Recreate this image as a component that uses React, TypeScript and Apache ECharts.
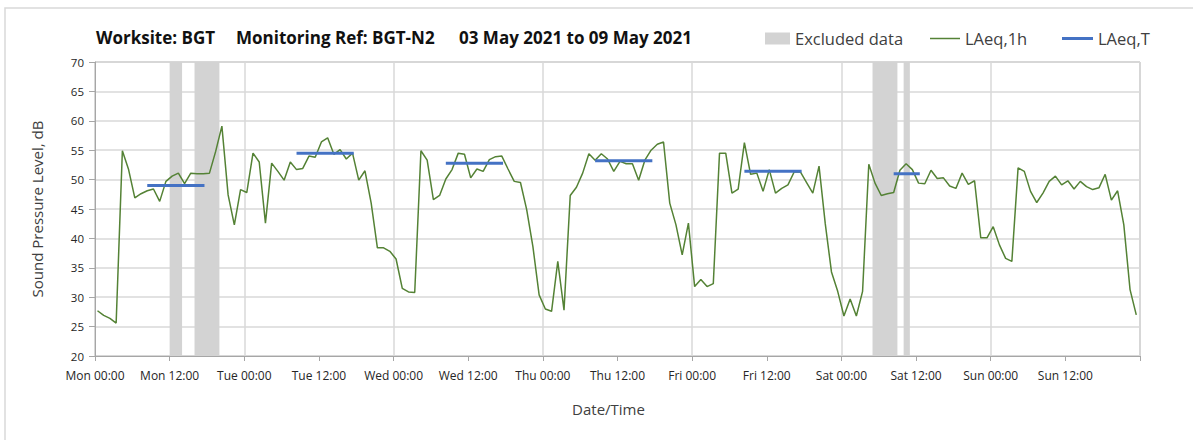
import React, { useEffect, useRef } from "react";
import * as echarts from "echarts";

// ---- Data ----
const dayNames = ["Mon", "Tue", "Wed", "Thu", "Fri", "Sat", "Sun"];
const yTicks = [20, 25, 30, 35, 40, 45, 50, 55, 60, 65, 70];

// hourly LAeq,1h readings (dB), sample times offset from the hour
const sampleOffsetHours = 0.4;
const monValues = [27.7, 26.9, 26.4, 25.6, 54.9, 51.7, 46.9, 47.6, 48.1, 48.4, 46.3, 49.7, 50.6, 51.1, 49.3, 51.1, 51.0, 51.0, 51.1, 54.8, 59.1, 47.4, 42.3, 48.3];
const tueValues = [47.8, 54.5, 53.0, 42.6, 52.8, 51.4, 49.9, 53.0, 51.7, 51.9, 54.0, 53.8, 56.4, 57.1, 54.3, 55.1, 53.5, 54.5, 49.9, 51.5, 46.0, 38.4, 38.4, 37.8];
const wedValues = [36.5, 31.5, 30.9, 30.8, 54.9, 53.3, 46.6, 47.3, 50.1, 51.7, 54.5, 54.3, 50.3, 51.8, 51.4, 53.4, 53.9, 54.0, 51.8, 49.7, 49.5, 44.9, 38.6, 30.4];
const thuValues = [28.0, 27.6, 36.1, 27.8, 47.3, 48.7, 51.1, 54.4, 53.3, 54.4, 53.5, 51.4, 53.1, 52.7, 52.7, 49.9, 53.3, 55.0, 56.0, 56.4, 46.0, 42.3, 37.2, 42.6];
const friValues = [31.8, 33.0, 31.8, 32.3, 54.5, 54.5, 47.7, 48.4, 56.3, 50.9, 51.1, 48.0, 51.7, 47.7, 48.5, 49.1, 51.3, 51.3, 49.5, 47.7, 52.3, 42.5, 34.3, 31.0];
const satValues = [26.8, 29.7, 26.8, 31.0, 52.6, 49.4, 47.3, 47.6, 47.8, 51.6, 52.7, 51.7, 49.4, 49.3, 51.6, 50.2, 50.3, 48.9, 48.5, 51.1, 49.2, 49.8, 40.1, 40.1];
const sunValues = [42.0, 38.9, 36.6, 36.1, 52.0, 51.4, 48.0, 46.1, 47.7, 49.7, 50.6, 49.1, 49.8, 48.4, 49.7, 48.8, 48.3, 48.6, 50.9, 46.5, 48.1, 42.3, 31.3, 27.0];

// LAeq,T period averages (hours from Mon 00:00)
const laeqTStart = [8.4, 32.4, 56.4, 80.4, 104.4, 128.4];
const laeqTEnd = [17.6, 41.6, 65.6, 89.6, 113.6, 132.6];
const laeqTValue = [49.0, 54.5, 52.8, 53.2, 51.4, 51.0];

// excluded data periods (hours from Mon 00:00)
const excludedStart = [12, 16, 125, 130];
const excludedEnd = [14, 20, 129, 131];

const FONT = "'Open Sans', sans-serif";
const GREEN = "#548235";
const BLUE = "#4472C4";
const GREY = "#d3d3d3";

export default function App() {
  const ref = useRef<HTMLDivElement>(null);
  useEffect(() => {
    if (!ref.current) return;
    const chart = echarts.init(ref.current, null, { renderer: "svg" });
    const allValues = [monValues, tueValues, wedValues, thuValues, friValues, satValues, sunValues].flat();
    const lineData = allValues.map((v, k) => [k + sampleOffsetHours, v]);

    const tSeries = laeqTValue.map((v, i) => ({
      name: "LAeq,T",
      type: "line",
      data: [
        [laeqTStart[i], v],
        [laeqTEnd[i], v],
      ],
      symbol: "none",
      lineStyle: { color: BLUE, width: 3 },
      itemStyle: { color: BLUE },
      z: 4,
      silent: true,
    }));

    const titleStyle = { fontFamily: FONT, fontSize: 17, fontWeight: "bold", color: "#111" };
    const legendText = { fontFamily: FONT, fontSize: 16.5, color: "#404040" };

    const option: any = {
      animation: false,
      textStyle: { fontFamily: FONT },
      title: [
        { text: "Worksite: BGT", left: 96, top: 29, padding: 0, textStyle: titleStyle },
        { text: "Monitoring Ref: BGT-N2", left: 236, top: 29, padding: 0, textStyle: titleStyle },
        { text: "03 May 2021 to 09 May 2021", left: 459, top: 29, padding: 0, textStyle: titleStyle },
      ],
      legend: [
        {
          left: 765, top: 30, padding: 0, itemWidth: 25, itemHeight: 12,
          textStyle: legendText,
          data: [{ name: "Excluded data", icon: "rect", itemStyle: { color: GREY } }],
        },
        {
          left: 930, top: 30, padding: 0, itemWidth: 30, itemHeight: 12,
          textStyle: legendText,
          data: [{ name: "LAeq,1h", icon: "path://M0,0L30,0L30,1.5L0,1.5Z", itemStyle: { color: GREEN } }],
        },
        {
          left: 1062, top: 30, padding: 0, itemWidth: 31, itemHeight: 12,
          textStyle: legendText,
          data: [{ name: "LAeq,T", icon: "path://M0,0L31,0L31,3L0,3Z", itemStyle: { color: BLUE } }],
        },
      ],
      graphic: [
        {
          type: "rect",
          z: -10,
          shape: { x: 5, y: 8, width: 1200, height: 440 },
          style: { fill: "none", stroke: "#d9d9d9", lineWidth: 1.5 },
          silent: true,
        },
      ],
      grid: {
        left: 95,
        right: 53,
        top: 62,
        bottom: 84,
        show: true,
        borderColor: "#a6a6a6",
        borderWidth: 1,
      },
      xAxis: [
        {
          type: "value",
          min: 0,
          max: 168,
          interval: 12,
          name: "Date/Time",
          nameLocation: "middle",
          nameGap: 45,
          nameTextStyle: { fontFamily: FONT, fontSize: 15, color: "#404040", padding: [0, 18, 0, 0] },
          axisLine: { show: true, lineStyle: { color: "#a6a6a6", width: 1 } },
          axisTick: { show: true, length: 5, lineStyle: { color: "#a6a6a6" } },
          axisLabel: {
            margin: 13,
            fontFamily: FONT,
            fontSize: 12,
            color: "#262626",
            formatter: (v: number) => {
              const d = Math.floor(v / 24);
              if (d >= dayNames.length) return "";
              const h = v % 24;
              return `${dayNames[d]} ${h === 0 ? "00" : "12"}:00`;
            },
          },
          splitLine: { show: false },
        },
        {
          type: "value",
          min: 0,
          max: 168,
          interval: 24,
          position: "bottom",
          axisLine: { show: false },
          axisTick: { show: false },
          axisLabel: { show: false },
          splitLine: { show: true, lineStyle: { color: "#d9d9d9", width: 1.5 } },
        },
      ],
      yAxis: {
        type: "value",
        min: yTicks[0],
        max: yTicks[yTicks.length - 1],
        interval: yTicks[1] - yTicks[0],
        name: "Sound Pressure Level, dB",
        nameLocation: "middle",
        nameGap: 51,
        nameTextStyle: { fontFamily: FONT, fontSize: 15, color: "#404040" },
        axisLine: { show: true, lineStyle: { color: "#a6a6a6", width: 1 } },
        axisTick: { show: true, length: 6, lineStyle: { color: "#a6a6a6" } },
        axisLabel: { margin: 11, fontFamily: FONT, fontSize: 11.5, color: "#262626" },
        splitLine: { show: true, lineStyle: { color: "#d9d9d9", width: 1.5 } },
      },
      series: [
        {
          name: "Excluded data",
          type: "line",
          data: [],
          symbol: "none",
          itemStyle: { color: GREY },
          lineStyle: { color: GREY },
          z: 1,
          silent: true,
          markArea: {
            silent: true,
            itemStyle: { color: GREY, opacity: 1 },
            data: excludedStart.map((s, i) => [{ xAxis: s }, { xAxis: excludedEnd[i] }]),
          },
        },
        {
          name: "LAeq,1h",
          type: "line",
          data: lineData,
          symbol: "none",
          lineStyle: { color: GREEN, width: 1.5 },
          itemStyle: { color: GREEN },
          z: 3,
          silent: true,
        },
        ...tSeries,
      ],
    };
    chart.setOption(option);
    return () => chart.dispose();
  }, []);
  return (
    <div
      ref={ref}
      style={{ position: "absolute", left: 0, top: 0, width: 1193, height: 440, background: "#fff" }}
    />
  );
}
